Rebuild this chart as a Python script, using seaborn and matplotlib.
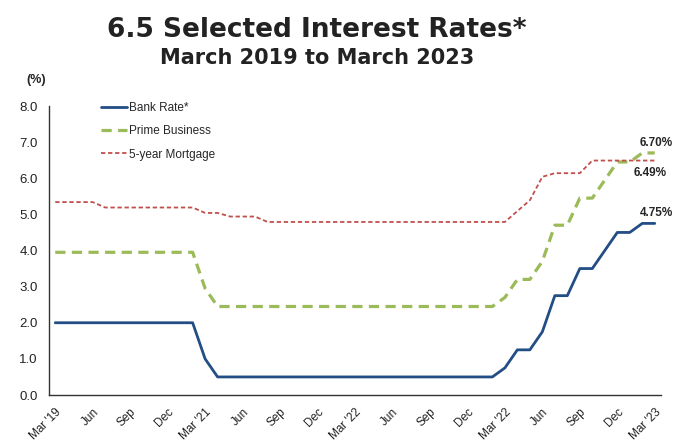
import pandas as pd
import matplotlib
matplotlib.use('Agg')
import matplotlib.pyplot as plt
import seaborn as sns

# Monthly values, Mar 2019 to Mar 2023 (49 months)
bank_rate = ([2.0] * 12 + [1.0] + [0.5] * 23 +
             [0.75, 1.25, 1.25, 1.75, 2.75, 2.75, 3.5, 3.5, 4.0, 4.5, 4.5, 4.75, 4.75])
prime_business = ([3.95] * 12 + [2.95] + [2.45] * 23 +
                  [2.7, 3.2, 3.2, 3.7, 4.7, 4.7, 5.45, 5.45, 5.95, 6.45, 6.45, 6.7, 6.7])
mortgage_5yr = ([5.34] * 4 + [5.19] * 8 + [5.04] * 2 + [4.94] * 3 + [4.79] * 20 +
                [5.09, 5.39, 6.04, 6.14, 6.14, 6.14] + [6.49] * 6)

tick_labels = ["Mar '19", "Jun", "Sep", "Dec", "Mar '21", "Jun", "Sep", "Dec",
               "Mar '22", "Jun", "Sep", "Dec", "Mar '22", "Jun", "Sep", "Dec", "Mar '23"]

df = pd.DataFrame({
    'month': range(len(bank_rate)),
    'bank': bank_rate,
    'prime': prime_business,
    'mortgage': mortgage_5yr,
})

sns.set_style("white")
plt.rcParams['font.family'] = ['Liberation Sans', 'DejaVu Sans']

fig = plt.figure(figsize=(6.82, 4.48), dpi=100)
ax = fig.add_axes([49 / 682, 53 / 448, 612 / 682, 289 / 448])

sns.lineplot(data=df, x='month', y='bank', ax=ax, color='#234E85', linewidth=2.0,
             label='Bank Rate*')
sns.lineplot(data=df, x='month', y='prime', ax=ax, color='#9BBB59', linewidth=2.3,
             linestyle=(0, (3.2, 2.0)), label='Prime Business')
sns.lineplot(data=df, x='month', y='mortgage', ax=ax, color='#C0504D', linewidth=1.3,
             linestyle=(0, (2.4, 1.5)), label='5-year Mortgage')

ax.set_xlim(-0.5, len(bank_rate) - 0.5)
ax.set_ylim(0, 8)
ax.set_yticks([i for i in range(9)])
ax.set_yticklabels([f"{i:.1f}" for i in range(9)], fontsize=9.5, color='#222222')
ax.set_xticks(range(0, len(bank_rate), 3))
ax.set_xticklabels(tick_labels, rotation=45, ha='right', va='top',
                   rotation_mode='anchor', fontsize=8.5, color='#222222')
ax.tick_params(axis='both', length=0, pad=8)
ax.set_xlabel('')
ax.set_ylabel('')
sns.despine(ax=ax)
for side in ['left', 'bottom']:
    ax.spines[side].set_color('#333333')
    ax.spines[side].set_linewidth(1.0)

leg = ax.legend(loc='upper left', bbox_to_anchor=(0.068, 1.05), frameon=False,
                fontsize=8.5, handlelength=2.2, handletextpad=0.15, labelspacing=0.95)

# end-of-series labels
last = len(bank_rate) - 1
ax.annotate(f"{prime_business[-1]:.2f}%", xy=(last, prime_business[-1]), xytext=(1, 7),
            textcoords='offset points', ha='center', va='center',
            fontsize=8.5, fontweight='bold')
ax.annotate(f"{mortgage_5yr[-1]:.2f}%", xy=(last, mortgage_5yr[-1]), xytext=(-3, -9),
            textcoords='offset points', ha='center', va='center',
            fontsize=8.5, fontweight='bold')
ax.annotate(f"{bank_rate[-1]:.2f}%", xy=(last, bank_rate[-1]), xytext=(1, 7.5),
            textcoords='offset points', ha='center', va='center',
            fontsize=8.5, fontweight='bold')

fig.text(36 / 682, 1 - 80 / 448, '(%)', ha='center', va='center', fontsize=9,
         fontweight='bold')
fig.text(317 / 682, 1 - 30 / 448, '6.5 Selected Interest Rates*', ha='center',
         va='center', fontsize=19, fontweight='bold', family=['DejaVu Sans'],
         color='#222222')
fig.text(317 / 682, 1 - 58 / 448, 'March 2019 to March 2023', ha='center',
         va='center', fontsize=15, fontweight='bold', family=['DejaVu Sans'],
         color='#222222')

plt.savefig('out.png', dpi=100)
plt.close()
